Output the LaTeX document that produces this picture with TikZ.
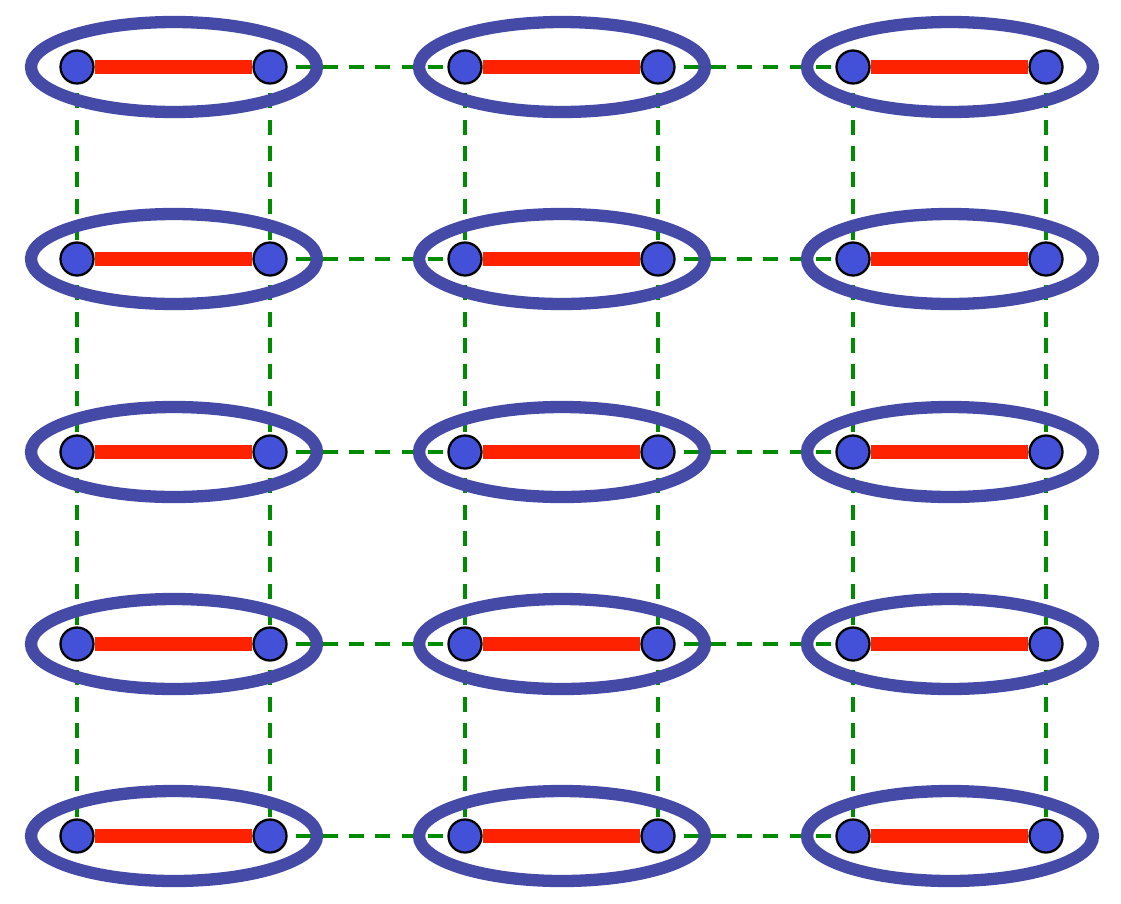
\documentclass[tikz,border=0pt]{standalone}
\usetikzlibrary{shapes.geometric}
\definecolor{ringblue}{RGB}{68,74,166}
\definecolor{atomblue}{RGB}{67,80,216}
\definecolor{bondred}{RGB}{255,34,0}
\definecolor{linkgreen}{RGB}{0,140,0}
\tikzset{atom/.style={circle,draw=black,fill=atomblue,line width=1.3pt,minimum size=0.66cm,inner sep=0pt}}
\tikzset{dimer/.style={ellipse,draw=ringblue,line width=7pt,minimum width=5.72cm,minimum height=1.8cm,inner sep=0pt}}
\tikzset{bond/.style={bondred,line width=7.8pt}}
\tikzset{link/.style={linkgreen,line width=2.7pt,dash pattern=on 8.5pt off 6.5pt}}

\begin{document}
\begin{tikzpicture}[x=0.02cm,y=-0.02cm]
\useasboundingbox (0,0) rectangle (1121,903);
% sites
\foreach \r/\y in {1/67,2/259,3/452,4/644,5/836}
  \foreach \c/\x in {1/77,2/465,3/853}{
    \coordinate (a\r\c) at (\x,\y);
    \coordinate (b\r\c) at (\x+193,\y);
    \coordinate (m\r\c) at (\x+97,\y);
  }
% dashed links
\foreach \r/\s in {1/2,2/3,3/4,4/5}
  \foreach \c in {1,2,3}
    \draw[link] (a\r\c) -- (a\s\c) (b\r\c) -- (b\s\c);
\foreach \r in {1,...,5}
  \foreach \c/\n in {1/2,2/3}
    \draw[link] (b\r\c) -- (a\r\n);
% dimers
\foreach \r in {1,...,5}
  \foreach \c in {1,2,3}{
    \node (e\r\c) [dimer] at (m\r\c) {};
    \node (p\r\c) [atom] at (a\r\c) {};
    \node (q\r\c) [atom] at (b\r\c) {};
    \draw[bond] (p\r\c) -- (q\r\c);
  }
\end{tikzpicture}
\end{document}
